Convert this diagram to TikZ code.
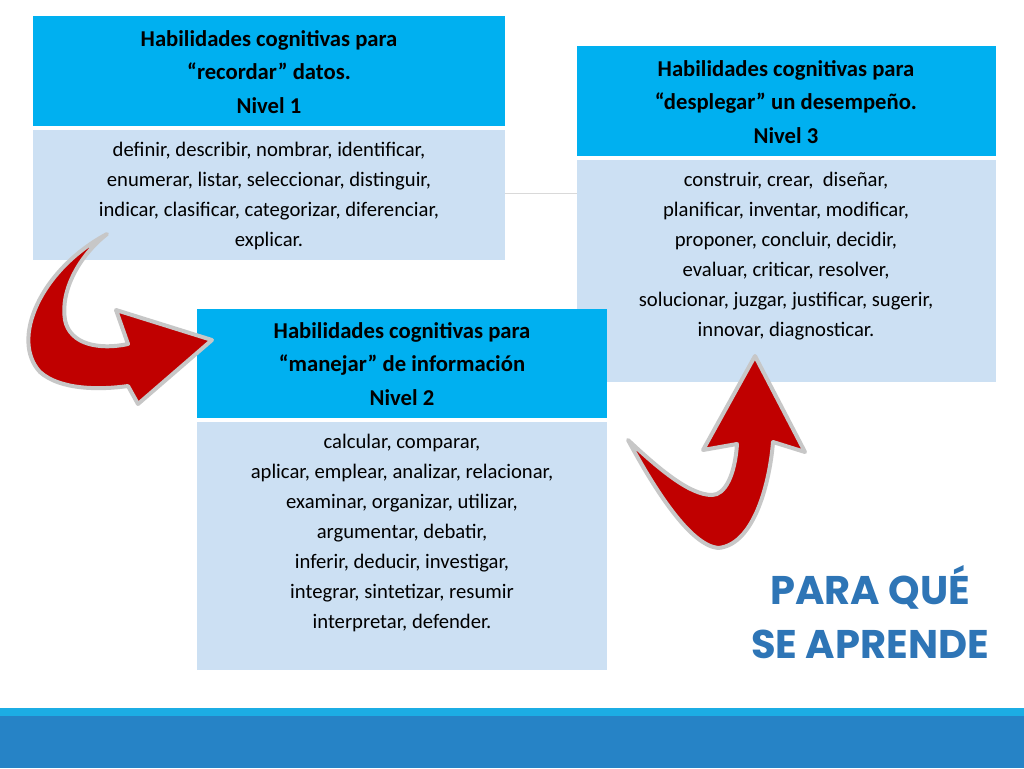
\documentclass[tikz,border=0pt]{standalone}
\usepackage{fontspec}
\setmainfont{Carlito}
\newfontfamily\titlefont{Poppins}
\begin{document}
\begin{tikzpicture}[x=0.75pt,y=-0.75pt,
  hdr/.style={fill=hdrc, draw=none},
  bdy/.style={fill=bdyc, draw=none},
  htxt/.style={font=\bfseries\fontsize{17}{25}\selectfont, align=center, text=black},
  btxt/.style={font=\fontsize{15.5}{22.5}\selectfont, align=center, text=black},
  redarrow/.style={fill=arrred, draw=black!22, line width=3pt, line join=round}]
\definecolor{hdrc}{HTML}{00B0F0}
\definecolor{bdyc}{HTML}{CCE0F3}
\definecolor{arrred}{HTML}{C00000}
\definecolor{bar1}{HTML}{1CADE4}
\definecolor{bar2}{HTML}{2683C6}
\definecolor{ttl}{HTML}{2E75B6}
\useasboundingbox (0,0) rectangle (1024,768);
\fill[white] (0,0) rectangle (1024,768);
% bottom bar
\fill[bar1] (0,708) rectangle (1024,716);
\fill[bar2] (0,716) rectangle (1024,768);
% faint line
\draw[black!15, line width=0.6pt] (505,193) -- (577,193);
% box 1
\fill[hdr] (33,16) rectangle (505,126);
\fill[bdy] (33,130) rectangle (505,260);
\node[htxt] (h1) at (269,72) {Habilidades cognitivas para\\“recordar” datos.\\Nivel 1};
\node[btxt] (b1) at (269,196) {definir, describir, nombrar, identificar,\\enumerar, listar, seleccionar, distinguir,\\indicar, clasificar, categorizar, diferenciar,\\explicar.};
% box 3
\fill[hdr] (577,46) rectangle (996,156);
\fill[bdy] (577,160) rectangle (996,382);
\node[htxt] (h3) at (786,102) {Habilidades cognitivas para\\“desplegar” un desempeño.\\Nivel 3};
\node[btxt] (b3) at (786,256) {construir, crear,\ \ diseñar,\\planificar, inventar, modificar,\\proponer, concluir, decidir,\\evaluar, criticar, resolver,\\solucionar, juzgar, justificar, sugerir,\\innovar, diagnosticar.};
% box 2
\fill[hdr] (197,309) rectangle (607,418);
\fill[bdy] (197,422) rectangle (607,670);
\node[htxt] (h2) at (402,364) {Habilidades cognitivas para\\“manejar” de información\\Nivel 2};
\node[btxt] (b2) at (402,533) {calcular, comparar,\\aplicar, emplear, analizar, relacionar,\\examinar, organizar, utilizar,\\argumentar, debatir,\\inferir, deducir, investigar,\\integrar, sintetizar, resumir\\interpretar, defender.};
% arrow 1
\draw[redarrow] (107,234) .. controls (40,270) and (10,340) .. (40,372)
  .. controls (60,390) and (100,390) .. (128,386) -- (138,404) -- (212,340)
  -- (116,310) -- (128,344) .. controls (100,350) and (70,345) .. (65,320)
  .. controls (60,290) and (80,255) .. (107,234) -- cycle;
% arrow 2
\draw[redarrow] (628,440) .. controls (655,490) and (690,545) .. (718,548)
  .. controls (755,545) and (770,480) .. (773,442) -- (805,452) -- (755,356)
  -- (703,450) -- (737,444) .. controls (735,475) and (725,495) .. (712,495)
  .. controls (690,495) and (660,470) .. (628,440) -- cycle;
% title
\node[font=\titlefont\bfseries\fontsize{30}{40}\selectfont, text=ttl, align=center] (t) at (870,612) {PARA QUÉ\\SE APRENDE};
\end{tikzpicture}
\end{document}
